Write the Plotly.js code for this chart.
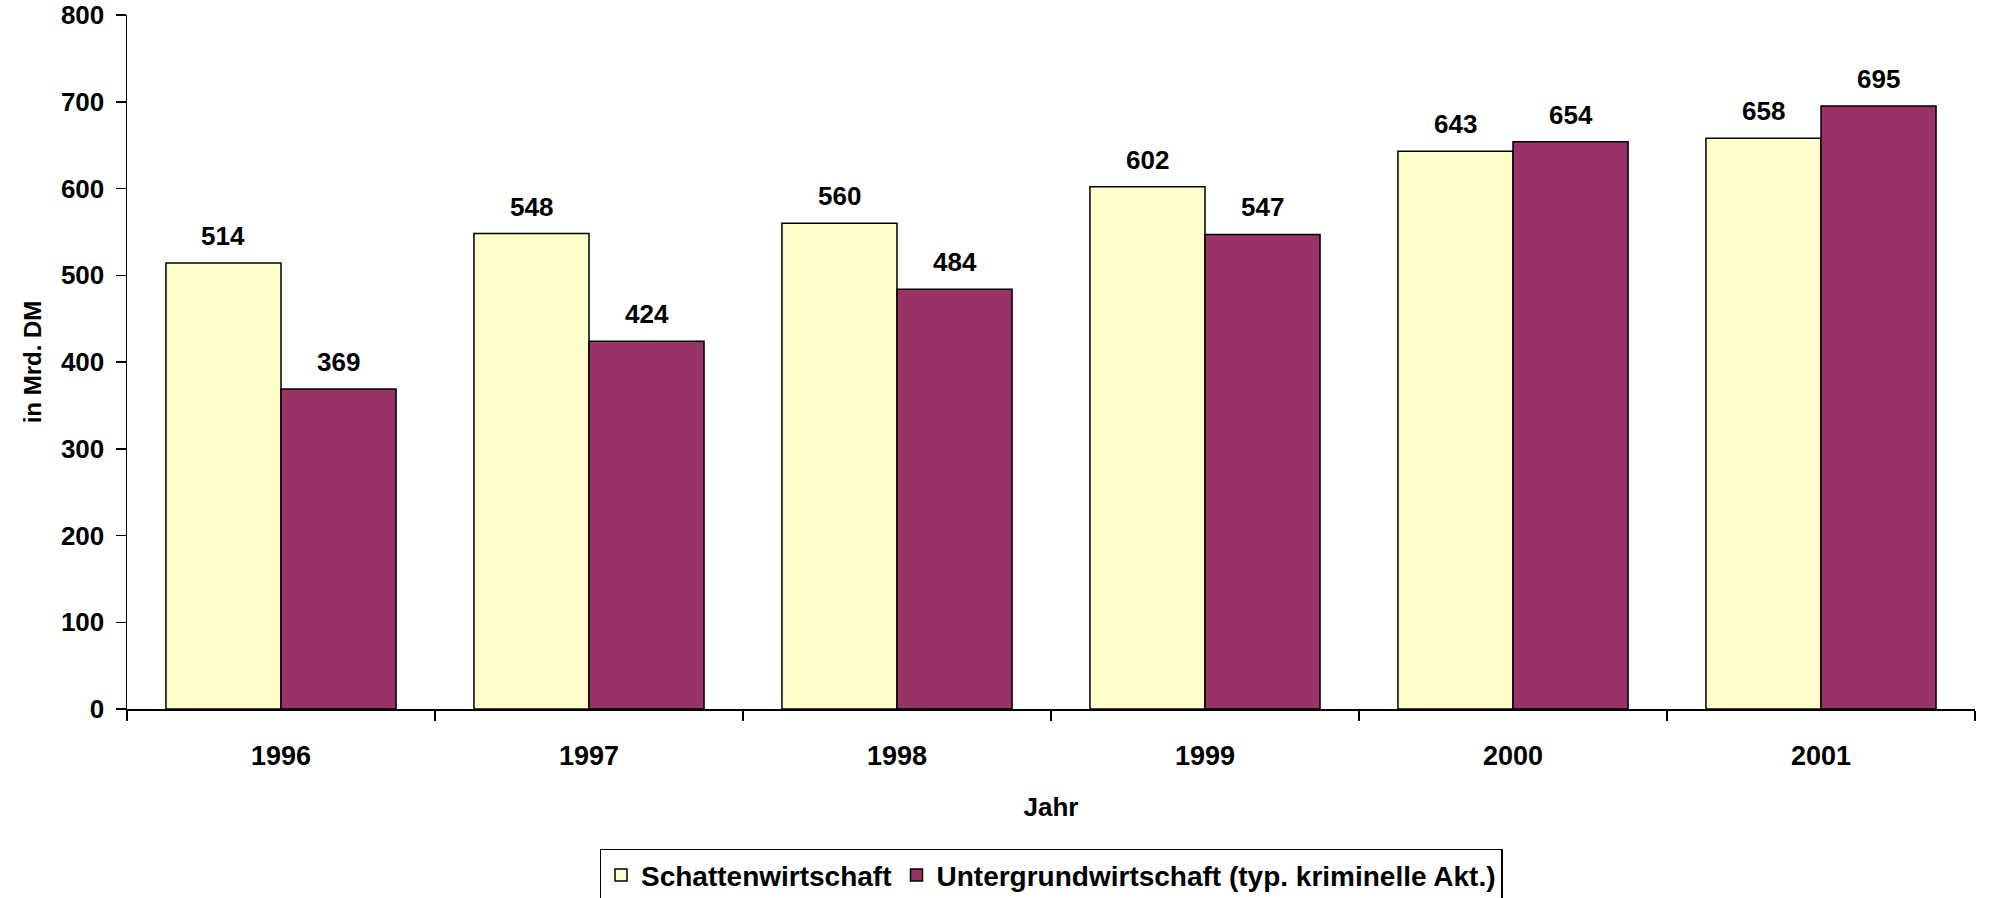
<!DOCTYPE html>
<html><head><meta charset="utf-8">
<script src="https://cdn.plot.ly/plotly-3.0.1.min.js"></script>
<style>html,body{margin:0;padding:0;background:#fff}#chart{width:1991px;height:898px}</style>
</head><body><div id="chart"></div>
<script>
const years = ['1996','1997','1998','1999','2000','2001'];
const schatten = [514, 548, 560, 602, 643, 658];
const untergrund = [369, 424, 484, 547, 654, 695];
const seriesNames = ['Schattenwirtschaft', 'Untergrundwirtschaft (typ. kriminelle Akt.)'];
const yTicks = [0,100,200,300,400,500,600,700,800];

const FONT = 'Liberation Sans, Arial, sans-serif';
const W = 1991, H = 898;
const margin = {l:127, r:16, t:15, b:189, autoexpand:false};
const plotW = W - margin.l - margin.r;
const catW = plotW / years.length;
const bargap = 0.253;
const barW = catW * (1 - bargap) / 2;

const traces = [
  {type:'bar', name:seriesNames[0], x:years, y:schatten,
   marker:{color:'#FFFFCC', line:{color:'#000', width:1.5}}, hoverinfo:'none'},
  {type:'bar', name:seriesNames[1], x:years, y:untergrund,
   marker:{color:'#993366', line:{color:'#000', width:1.5}}, hoverinfo:'none'}
];

const annotations = [];
[schatten, untergrund].forEach((arr, si) => {
  arr.forEach((v, i) => {
    annotations.push({x:i, y:v, xref:'x', yref:'y', text:String(v), showarrow:false,
      xanchor:'center', yanchor:'bottom', yshift:10, xshift:(si===0?-1:1)*barW/2,
      font:{family:FONT, size:26, color:'#000', weight:700}});
  });
});

const layout = {
  width:W, height:H, margin:margin, paper_bgcolor:'#fff', plot_bgcolor:'#fff',
  barmode:'group', bargap:bargap, bargroupgap:0,
  font:{family:FONT, color:'#000'},
  showlegend:true,
  legend:{orientation:'h', x:0.5, xanchor:'center', y:-0.2015, yanchor:'top',
    bordercolor:'#000', borderwidth:1.5, bgcolor:'#fff',
    font:{family:FONT, size:28, color:'#000', weight:700}, itemwidth:30, traceorder:'normal'},
  xaxis:{type:'category', range:[-0.5, years.length-0.5], autorange:false,
    showline:true, linecolor:'#000', linewidth:1.5,
    ticks:'outside', tickson:'boundaries', ticklen:10, tickwidth:1.5, tickcolor:'#000',
    showgrid:false, zeroline:false, tickangle:0, ticklabelstandoff:22,
    tickfont:{family:FONT, size:27, weight:700},
    title:{text:'Jahr', font:{family:FONT, size:26, weight:700}, standoff:28}},
  yaxis:{range:[0,800], autorange:false, tickvals:yTicks, showline:true, linecolor:'#000', linewidth:1.5,
    ticks:'outside', ticklen:10, tickwidth:1.5, tickcolor:'#000',
    showgrid:false, zeroline:false, ticklabelstandoff:6,
    tickfont:{family:FONT, size:26, weight:700},
    title:{text:'in Mrd. DM', font:{family:FONT, size:24, weight:700}, standoff:12}},
  annotations:annotations
};
Plotly.newPlot('chart', traces, layout, {displayModeBar:false, staticPlot:true});
</script></body></html>
